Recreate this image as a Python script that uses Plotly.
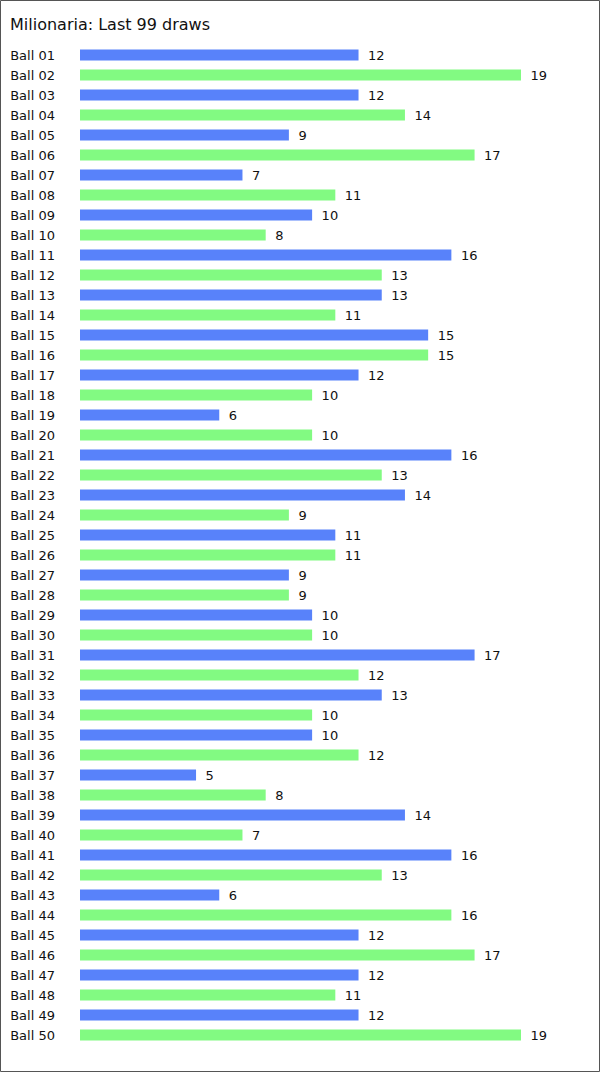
import plotly.graph_objects as go

balls = [f"Ball {i:02d}" for i in range(1, 51)]
counts = [12, 19, 12, 14, 9, 17, 7, 11, 10, 8,
          16, 13, 13, 11, 15, 15, 12, 10, 6, 10,
          16, 13, 14, 9, 11, 11, 9, 9, 10, 10,
          17, 12, 13, 10, 10, 12, 5, 8, 14, 7,
          16, 13, 6, 16, 12, 17, 12, 11, 12, 19]
title = "Milionaria: Last 99 draws"

BLUE = "#5882FA"
GREEN = "#82FA82"
colors = [BLUE if i % 2 == 0 else GREEN for i in range(len(balls))]

W, H = 600, 1072
ml, mr, mt, mb = 80, 10, 45, 27
pw = W - ml - mr
ph = H - mt - mb
px_per_unit = 441 / 19
xmax = pw / px_per_unit

fig = go.Figure(go.Bar(
    x=counts, y=balls, orientation="h",
    marker=dict(color=colors, line=dict(width=0)),
    text=counts, texttemplate="\u2002%{x}", textposition="outside",
    cliponaxis=False, constraintext="none",
    textfont=dict(family="DejaVu Sans, Verdana", size=13, color="#111"),
    hoverinfo="skip",
))

fig.update_layout(
    width=W, height=H,
    margin=dict(l=ml, r=mr, t=mt, b=mb, autoexpand=False),
    paper_bgcolor="white", plot_bgcolor="white",
    bargap=0.45,
    uniformtext=dict(mode=False),
    showlegend=False,
    font=dict(family="DejaVu Sans, Verdana", size=13, color="#111"),
    title=dict(text=title, x=10 / W, xanchor="left", xref="container",
               y=1 - 24 / H, yanchor="middle", yref="container",
               font=dict(family="DejaVu Sans, Verdana", size=16, color="#111")),
    xaxis=dict(range=[0, xmax], visible=False, fixedrange=True),
    yaxis=dict(autorange="reversed", showgrid=False, zeroline=False,
               showline=False, ticks="", ticklabelstandoff=24,
               tickfont=dict(family="DejaVu Sans, Verdana", size=13, color="#111")),
    shapes=[dict(type="rect", xref="paper", yref="paper",
                 x0=(-ml + 0.5) / pw, x1=1 + (mr - 0.5) / pw,
                 y0=(-mb + 0.5) / ph, y1=1 + (mt - 0.5) / ph,
                 line=dict(color="#555555", width=1), layer="above")],
)

fig.write_html("out.html")
